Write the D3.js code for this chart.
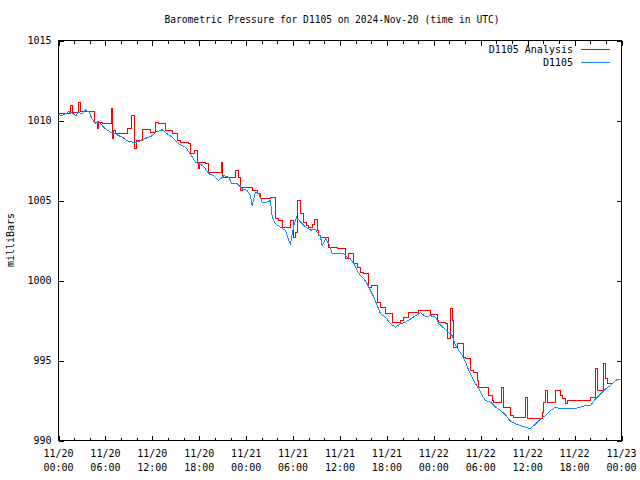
<!DOCTYPE html>
<html><head><meta charset="utf-8">
<script src="https://cdn.jsdelivr.net/npm/d3@7"></script>
<style>
body{margin:0;background:#fff}
svg{display:block}
text{font-family:"DejaVu Sans Mono","Liberation Mono",monospace;font-size:10px;fill:#000}
</style>
</head><body>
<svg id="chart" width="640" height="480"></svg>
<script>
// ---- data (hours since 2024-11-20 00:00 UTC) ----
const analysisHours = [0.00,1.53,1.75,2.60,2.81,4.64,4.95,5.15,5.59,6.78,6.87,7.03,7.29,8.79,9.34,9.76,9.94,10.70,11.77,12.40,12.83,13.69,14.54,15.18,15.60,16.66,16.88,17.39,17.81,17.94,18.07,18.80,19.22,20.81,21.01,22.64,23.06,23.28,23.49,24.77,25.41,25.83,27.11,27.75,28.17,28.61,29.67,30.01,30.31,30.60,30.95,31.33,31.72,32.01,32.44,32.74,33.08,33.29,33.51,34.57,35.64,36.70,37.13,37.69,38.20,38.62,38.97,39.68,39.99,40.76,41.18,41.82,42.67,43.74,44.16,44.80,46.08,46.72,47.57,48.43,48.64,49.49,49.71,50.13,50.35,50.56,50.99,51.83,52.05,52.69,53.11,53.55,53.75,55.03,55.46,55.67,56.65,56.95,57.81,58.23,59.72,59.94,61.86,62.06,62.28,62.50,63.56,64.20,64.42,64.84,65.06,68.04,68.68,68.89,69.74,69.96,70.17,70.81];
const analysisValues = [1010.42,1010.94,1010.50,1011.14,1010.58,1009.90,1009.50,1009.90,1009.80,1010.74,1008.90,1009.40,1009.20,1009.48,1010.30,1008.23,1008.75,1009.42,1009.25,1009.90,1009.80,1009.38,1009.20,1008.75,1008.60,1008.58,1007.95,1008.10,1007.40,1007.00,1007.40,1007.30,1006.77,1007.40,1006.46,1006.88,1006.46,1005.63,1005.83,1005.63,1005.42,1005.10,1005.20,1003.85,1003.75,1003.33,1003.75,1002.71,1003.00,1005.00,1004.17,1003.60,1003.44,1003.33,1003.50,1003.80,1003.10,1002.81,1002.71,1002.08,1001.98,1001.35,1001.67,1001.04,1000.83,1000.52,1000.42,999.58,999.69,998.65,998.33,997.92,997.40,997.50,997.67,998.02,998.13,998.10,997.85,997.50,997.40,997.30,996.35,998.23,997.50,995.83,996.04,995.20,995.10,994.38,994.27,993.75,993.33,992.81,992.50,992.40,993.30,992.08,991.56,991.46,992.71,991.35,991.77,992.40,993.13,992.40,993.13,992.81,992.60,992.29,992.50,992.71,994.48,993.13,994.80,993.85,993.54,993.54];

const obsHours = [0.00,0.45,0.90,1.30,1.75,2.20,2.60,3.00,3.45,3.90,4.30,4.73,5.05,5.37,6.00,6.65,7.29,7.70,8.15,8.60,9.00,9.85,10.70,11.55,12.00,12.40,13.26,13.90,14.54,15.39,16.24,16.88,17.52,18.38,18.58,19.22,19.86,20.50,21.14,21.78,22.20,22.85,23.49,24.13,24.55,24.77,25.19,25.62,26.05,26.69,27.11,27.33,27.75,28.39,29.03,29.45,29.67,30.09,30.44,30.95,31.59,32.23,32.87,33.51,33.72,34.15,34.57,35.00,35.64,36.49,36.92,37.34,37.77,38.20,38.62,39.05,39.48,39.90,40.32,40.76,41.18,41.82,42.46,43.10,43.74,44.38,45.02,45.66,46.30,46.94,47.57,48.20,48.64,49.28,49.92,50.35,50.77,51.19,51.63,52.05,52.47,52.91,53.33,53.75,54.19,54.61,55.25,55.89,56.53,57.17,57.81,58.45,59.08,59.72,60.36,61.00,61.64,62.28,62.92,63.56,64.20,65.06,65.90,66.76,67.40,68.04,68.68,69.32,69.96,70.60,71.24,71.66,72.00];
const obsValues = [1010.38,1010.30,1010.42,1010.55,1010.46,1010.30,1010.52,1010.40,1010.67,1010.52,1010.10,1009.80,1009.95,1009.80,1009.48,1009.27,1009.17,1009.05,1008.96,1008.80,1008.70,1008.60,1008.80,1008.96,1009.05,1009.27,1009.42,1009.17,1008.96,1008.54,1008.33,1007.90,1007.40,1007.20,1007.13,1006.67,1006.56,1006.25,1006.56,1006.46,1006.04,1006.04,1005.73,1005.63,1005.31,1004.69,1005.52,1005.42,1004.90,1004.90,1005.00,1003.96,1003.54,1003.33,1003.13,1002.50,1002.29,1003.44,1003.96,1003.65,1003.35,1003.15,1003.18,1002.71,1002.19,1002.60,1002.29,1001.67,1001.67,1001.67,1001.46,1001.35,1001.04,1000.63,1000.31,1000.10,999.79,999.38,998.96,998.44,997.92,997.71,997.29,997.08,997.29,997.40,997.60,997.80,997.98,997.75,997.80,997.71,997.30,997.03,996.72,996.56,995.94,995.63,995.31,994.90,994.38,993.96,993.54,993.23,992.81,992.50,992.40,992.08,991.88,991.60,991.20,991.04,990.94,990.83,990.73,991.04,991.35,991.56,991.88,992.08,991.98,991.98,991.98,992.08,992.19,992.19,992.60,992.92,993.23,993.44,993.75,993.85,993.75];

const xTickHours = [0,6,12,18,24,30,36,42,48,54,60,66,72];
const xTickDates = ["11/20","11/20","11/20","11/20","11/21","11/21","11/21","11/21","11/22","11/22","11/22","11/22","11/23"];
const xTickTimes = ["00:00","06:00","12:00","18:00","00:00","06:00","12:00","18:00","00:00","06:00","12:00","18:00","00:00"];
const xMinorHours = [2,4,8,10,14,16,20,22,26,28,32,34,38,40,44,46,50,52,56,58,62,64,68,70];
const yTicks = [990,995,1000,1005,1010,1015];
const seriesNames = ["D1105 Analysis","D1105"];
const seriesColors = ["#ff0000","#1a86f0"];
const titleText = "Barometric Pressure for D1105 on 2024-Nov-20 (time in UTC)";
const yLabel = "milliBars";

// ---- layout ----
const L = 58.5, R = 621.5, T = 40.5, B = 440.5;
const svg = d3.select("#chart");
const x = d3.scaleLinear().domain([0,72]).range([L,R]);
const y = d3.scaleLinear().domain([990,1015]).range([B,T]);

function styleAxis(g){
  g.select(".domain").remove();
  g.attr("font-family",null).attr("font-size",null);
  g.selectAll("line").attr("stroke","#000").attr("shape-rendering","crispEdges");
}

svg.append("g").attr("transform",`translate(0,${B})`)
  .call(d3.axisBottom(x).tickValues(xTickHours).tickSize(-5).tickSizeOuter(0).tickFormat(""))
  .call(styleAxis);
svg.append("g").attr("transform",`translate(0,${B})`)
  .call(d3.axisBottom(x).tickValues(xMinorHours).tickSize(-3).tickSizeOuter(0).tickFormat(""))
  .call(styleAxis);
svg.append("g").attr("transform",`translate(0,${T})`)
  .call(d3.axisTop(x).tickValues(xTickHours).tickSize(-5).tickSizeOuter(0).tickFormat(""))
  .call(styleAxis);
svg.append("g").attr("transform",`translate(0,${T})`)
  .call(d3.axisTop(x).tickValues(xMinorHours).tickSize(-3).tickSizeOuter(0).tickFormat(""))
  .call(styleAxis);

const gy = svg.append("g").attr("transform",`translate(${L},0)`)
  .call(d3.axisLeft(y).tickValues(yTicks).tickSize(-5).tickSizeOuter(0).tickPadding(7).tickFormat(d3.format("d")))
  .call(styleAxis);
gy.selectAll("text").attr("fill","#000");
svg.append("g").attr("transform",`translate(${R},0)`)
  .call(d3.axisRight(y).tickValues(yTicks).tickSize(-5).tickSizeOuter(0).tickFormat(""))
  .call(styleAxis);

const xl = svg.append("g").selectAll("text").data(xTickHours).join("text")
  .attr("text-anchor","middle");
xl.append("tspan").attr("x",d=>x(d)).attr("y",457).text((d,i)=>xTickDates[i]);
xl.append("tspan").attr("x",d=>x(d)).attr("y",471).text((d,i)=>xTickTimes[i]);

svg.append("rect").attr("x",L).attr("y",T).attr("width",R-L).attr("height",B-T)
  .attr("fill","none").attr("stroke","#000").attr("shape-rendering","crispEdges");

const series = [
  {hours:analysisHours, values:analysisValues, curve:d3.curveStepAfter},
  {hours:obsHours, values:obsValues, curve:d3.curveLinear}
];
series.forEach((s,k)=>{
  const line = d3.line().x(d=>x(s.hours[d])).y(d=>y(s.values[d])).curve(s.curve);
  svg.append("path").datum(d3.range(s.hours.length))
    .attr("d",line).attr("fill","none").attr("stroke",seriesColors[k])
    .attr("stroke-width",1).attr("shape-rendering","crispEdges");
});

const legendY = [49.5,62.5];
seriesNames.forEach((n,k)=>{
  svg.append("text").attr("x",573).attr("y",legendY[k]+3.5).attr("text-anchor","end").text(n);
  svg.append("line").attr("x1",581).attr("x2",610).attr("y1",legendY[k]).attr("y2",legendY[k])
    .attr("stroke",seriesColors[k]).attr("shape-rendering","crispEdges");
});

svg.append("text").attr("x",332).attr("y",23).attr("text-anchor","middle")
  .style("font-size","9.6px").text(titleText);
svg.append("text").attr("transform","translate(14,240) rotate(-90)").attr("text-anchor","middle").text(yLabel);
</script>
</body></html>
